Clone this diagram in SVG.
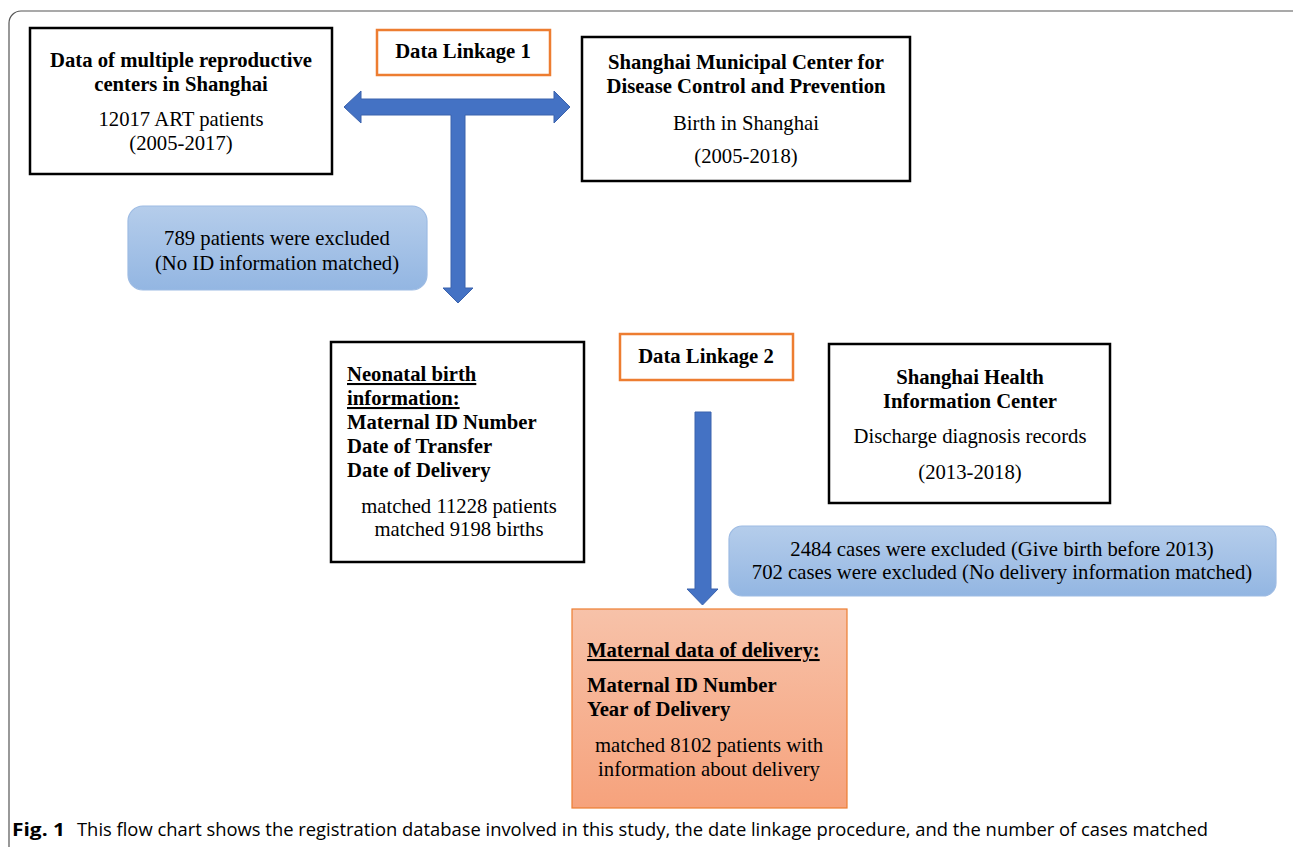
<svg xmlns="http://www.w3.org/2000/svg" width="1293" height="847" viewBox="0 0 1293 847">
<defs>
<linearGradient id="gBlue" x1="0" y1="0" x2="0" y2="1"><stop offset="0" stop-color="#b5cdeb"/><stop offset="1" stop-color="#93b6e2"/></linearGradient>
<linearGradient id="gOrange" x1="0" y1="0" x2="0" y2="1"><stop offset="0" stop-color="#f7c2a9"/><stop offset="1" stop-color="#f6a27c"/></linearGradient>
<style>
.box{fill:#fff;stroke:#000;stroke-width:2.5}
.lk{fill:#fff;stroke:#ed7d31;stroke-width:2.5}
.ex{fill:url(#gBlue);stroke:#9dbbe3;stroke-width:1.2}
.arrow{fill:#4472c4;stroke:#3a62ad;stroke-width:1}
.b{font-family:"Liberation Serif",serif;font-weight:bold;font-size:20.7px;fill:#000}
.r{font-family:"Liberation Serif",serif;font-size:20.7px;fill:#000}
.c{text-anchor:middle}
.u{text-decoration:underline}
.cap{font-family:"Open Sans","Liberation Sans",sans-serif;font-size:18px;fill:#000}
</style>
</defs>
<rect x="9" y="11" width="1300" height="860" rx="12" fill="none" stroke="#555" stroke-width="1.2"/>
<g id="connectors">
<path class="arrow" d="M344,107 L361,91 L361,99 L554,99 L554,91 L570,107 L554,123 L554,115 L465,115 L465,288 L473,288 L458,303 L443,288 L451,288 L451,115 L361,115 L361,123 Z"/>
<path class="arrow" d="M695,412 L711,412 L711,589 L718,589 L702.5,605 L687,589 L695,589 Z"/>
</g>
<g id="n-repro">
<rect class="box" x="30" y="28" width="302" height="146"/>
<text class="b c" x="181" y="67">Data of multiple reproductive</text>
<text class="b c" x="181" y="91">centers in Shanghai</text>
<text class="r c" x="181" y="126">12017 ART patients</text>
<text class="r c" x="181" y="150">(2005-2017)</text>
</g>
<g id="n-link1">
<rect class="lk" x="377" y="30" width="173" height="45"/>
<text class="b c" x="463" y="58">Data Linkage 1</text>
</g>
<g id="n-cdc">
<rect class="box" x="582" y="37" width="328" height="144"/>
<text class="b c" x="746" y="69">Shanghai Municipal Center for</text>
<text class="b c" x="746" y="93">Disease Control and Prevention</text>
<text class="r c" x="746" y="130">Birth in Shanghai</text>
<text class="r c" x="746" y="163">(2005-2018)</text>
</g>
<g id="n-excl1">
<rect class="ex" x="128" y="206" width="299" height="84" rx="15"/>
<text class="r c" x="277" y="245">789 patients were excluded</text>
<text class="r c" x="277" y="270">(No ID information matched)</text>
</g>
<g id="n-neonatal">
<rect class="box" x="331" y="342" width="253" height="220"/>
<text class="b u" x="347" y="381">Neonatal birth</text>
<text class="b u" x="347" y="405">information:</text>
<text class="b" x="347" y="429">Maternal ID Number</text>
<text class="b" x="347" y="453">Date of Transfer</text>
<text class="b" x="347" y="477">Date of Delivery</text>
<text class="r c" x="459" y="513">matched 11228 patients</text>
<text class="r c" x="459" y="536">matched 9198 births</text>
</g>
<g id="n-link2">
<rect class="lk" x="620" y="334" width="173" height="46"/>
<text class="b c" x="706" y="363">Data Linkage 2</text>
</g>
<g id="n-health">
<rect class="box" x="829" y="344" width="281" height="159"/>
<text class="b c" x="970" y="384">Shanghai Health</text>
<text class="b c" x="970" y="408">Information Center</text>
<text class="r c" x="970" y="443">Discharge diagnosis records</text>
<text class="r c" x="970" y="479">(2013-2018)</text>
</g>
<g id="n-excl2">
<rect class="ex" x="729" y="526" width="547" height="70" rx="13"/>
<text class="r c" x="1002" y="556">2484 cases were excluded (Give birth before 2013)</text>
<text class="r c" x="1002" y="579">702 cases were excluded (No delivery information matched)</text>
</g>
<g id="n-maternal">
<rect x="572" y="609" width="275" height="199" fill="url(#gOrange)" stroke="#ed7d31" stroke-width="1.2"/>
<text class="b u" x="587" y="657">Maternal data of delivery:</text>
<text class="b" x="587" y="692">Maternal ID Number</text>
<text class="b" x="587" y="716">Year of Delivery</text>
<text class="r c" x="709" y="752">matched 8102 patients with</text>
<text class="r c" x="709" y="776">information about delivery</text>
</g>
<g id="caption">
<text class="cap" x="12" y="836" font-weight="bold" textLength="53" lengthAdjust="spacingAndGlyphs">Fig. 1</text>
<text class="cap" x="77" y="836" textLength="1131" lengthAdjust="spacingAndGlyphs">This flow chart shows the registration database involved in this study, the date linkage procedure, and the number of cases matched</text>
</g>
</svg>
